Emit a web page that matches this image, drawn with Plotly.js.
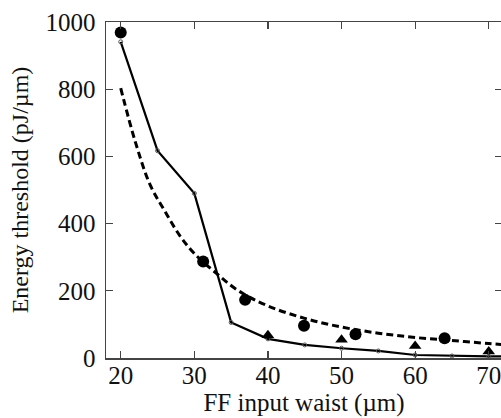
<!DOCTYPE html>
<html>
<head>
<meta charset="utf-8">
<script src="https://cdn.plot.ly/plotly-3.0.1.min.js"></script>
<style>
html,body{margin:0;padding:0;overflow:hidden;background:#fff;}
#chart{width:506px;height:418px;}
</style>
</head>
<body>
<div id="chart"></div>
<script>
// Solid line: simulation with small open circles
const simX = [20, 25, 30, 35, 40, 45, 50, 55, 60, 65, 70, 75];
const simY = [941, 617, 490, 106, 57, 39, 29, 21, 9, 6, 5, 4];

// Dashed curve
const dashX = [20, 22, 24, 26, 28, 30, 33, 36, 40, 45, 50, 55, 60, 65, 70, 73];
const dashY = [803, 642, 515, 437, 365, 311, 252, 200, 155, 118, 92, 74, 61, 52, 43, 38];

// Filled circles
const circX = [20, 31.2, 36.9, 44.9, 51.9, 64.0];
const circY = [969, 287, 173, 96, 71, 59];

// Filled triangles
const triX = [40, 50, 60, 70];
const triY = [68, 54, 36, 19];

const xTicks = [20, 30, 40, 50, 60, 70];
const yTicks = [0, 200, 400, 600, 800, 1000];

const traces = [
  {x: dashX, y: dashY, type: 'scatter', mode: 'lines',
   line: {color: '#000', width: 3, dash: '7px,4px', shape: 'spline'}, hoverinfo: 'skip'},
  {x: simX, y: simY, type: 'scatter', mode: 'lines+markers',
   line: {color: '#000', width: 2.2},
   marker: {symbol: 'circle-open', size: 4, color: '#555', line: {width: 1, color: '#555'}}},
  {x: circX, y: circY, type: 'scatter', mode: 'markers',
   marker: {symbol: 'circle', size: 12, color: '#000'}},
  {x: triX, y: triY, type: 'scatter', mode: 'markers',
   marker: {symbol: 'triangle-up', size: 11, color: '#000'}}
];

const fam = '"Liberation Serif", "DejaVu Serif", serif';
const font = {family: fam, size: 25, color: '#111'};
const yTitleFont = {family: fam, size: 24, color: '#111'};

const layout = {
  width: 506, height: 418,
  margin: {l: 106, r: 4, t: 22, b: 60},
  paper_bgcolor: '#fff', plot_bgcolor: '#fff',
  showlegend: false,
  font: font,
  xaxis: {
    range: [18.0, 71.8],
    tickvals: xTicks, ticktext: xTicks.map(String),
    ticks: 'inside', ticklen: 7, tickwidth: 1.2, tickcolor: '#444',
    showline: true, linecolor: '#444', linewidth: 1.5, mirror: 'ticks',
    showgrid: false, zeroline: false,
    tickfont: font, ticklabelstandoff: -6,
    title: {text: 'FF input waist (µm)', font: font, standoff: 4}
  },
  yaxis: {
    range: [0, 1000],
    tickvals: yTicks, ticktext: yTicks.map(String),
    ticks: 'inside', ticklen: 7, tickwidth: 1.2, tickcolor: '#444',
    showline: true, linecolor: '#444', linewidth: 1.5, mirror: 'ticks',
    showgrid: false, zeroline: false,
    tickfont: font, ticklabelstandoff: 4,
    title: {text: 'Energy threshold (pJ/µm)', font: yTitleFont, standoff: 10}
  }
};

Plotly.newPlot('chart', traces, layout, {displayModeBar: false, staticPlot: true});
</script>
</body>
</html>
